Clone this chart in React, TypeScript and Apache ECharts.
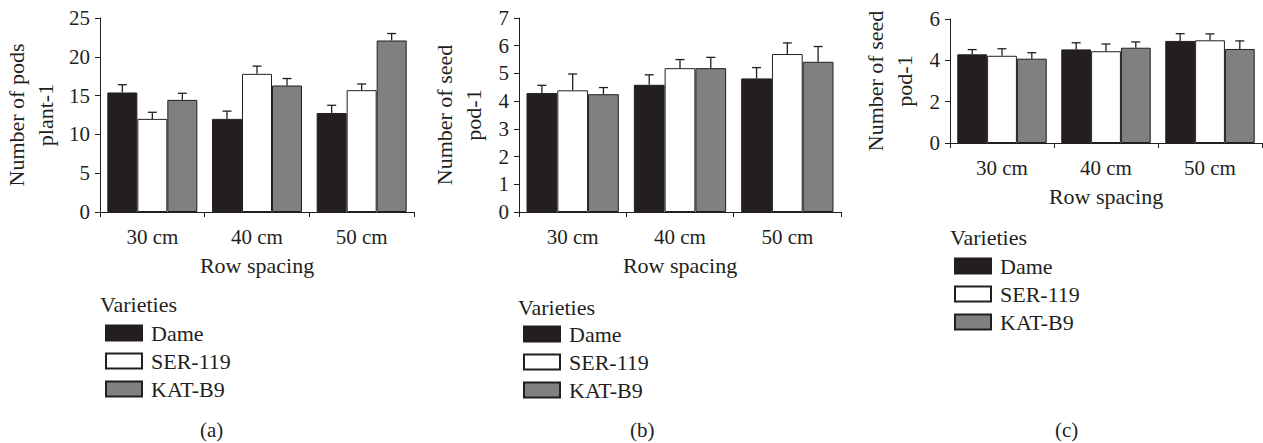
import React, { useEffect, useRef } from "react";
import * as echarts from "echarts";

const categories = ["30 cm", "40 cm", "50 cm"];
const varieties = ["Dame", "SER-119", "KAT-B9"];

// Panel (a): Number of pods plant-1
const podsDame = [15.4, 12.0, 12.75];
const podsDameErr = [1.0, 1.0, 1.0];
const podsSER = [12.0, 17.8, 15.7];
const podsSERErr = [0.85, 1.0, 0.8];
const podsKAT = [14.45, 16.3, 22.1];
const podsKATErr = [0.85, 0.9, 0.9];

// Panel (b): Number of seed pod-1
const seedBDame = [4.29, 4.59, 4.82];
const seedBDameErr = [0.28, 0.36, 0.39];
const seedBSER = [4.39, 5.19, 5.7];
const seedBSERErr = [0.59, 0.31, 0.4];
const seedBKAT = [4.25, 5.19, 5.42];
const seedBKATErr = [0.24, 0.39, 0.55];

// Panel (c): Number of seed pod-1
const seedCDame = [4.29, 4.53, 4.94];
const seedCDameErr = [0.23, 0.32, 0.35];
const seedCSER = [4.22, 4.44, 4.97];
const seedCSERErr = [0.34, 0.35, 0.31];
const seedCKAT = [4.08, 4.61, 4.55];
const seedCKATErr = [0.29, 0.28, 0.39];

const FONT = "'Liberation Serif', 'DejaVu Serif', serif";
const INK = "#231f20";
const colors = ["#231f20", "#ffffff", "#7f807f"];
const CAT_GAP = 0.14;

export default function App() {
  const ref = useRef<HTMLDivElement>(null);
  useEffect(() => {
    if (!ref.current) return;
    const chart = echarts.init(ref.current, null, { renderer: "svg" });

    const panels = [
      {
        grid: { left: 100, top: 18, width: 314, height: 194 },
        yMax: 25, yInt: 5, yName: "Number of pods\nplant-1", nameGap: 40,
        vals: [podsDame, podsSER, podsKAT],
        errs: [podsDameErr, podsSERErr, podsKATErr],
        legend: { left: 100, top: 317 }, varieties: { x: 100, y: 305 },
        tag: "(a)", tagX: 212,
      },
      {
        grid: { left: 519, top: 18, width: 322, height: 194 },
        yMax: 7, yInt: 1, yName: "Number of seed\npod-1", nameGap: 31,
        vals: [seedBDame, seedBSER, seedBKAT],
        errs: [seedBDameErr, seedBSERErr, seedBKATErr],
        legend: { left: 518, top: 318 }, varieties: { x: 518, y: 308 },
        tag: "(b)", tagX: 642,
      },
      {
        grid: { left: 950, top: 19, width: 312, height: 124 },
        yMax: 6, yInt: 2, yName: "Number of seed\npod-1", nameGap: 31,
        vals: [seedCDame, seedCSER, seedCKAT],
        errs: [seedCDameErr, seedCSERErr, seedCKATErr],
        legend: { left: 949, top: 250 }, varieties: { x: 950, y: 238 },
        tag: "(c)", tagX: 1067,
      },
    ];

    const grid: any[] = [];
    const xAxis: any[] = [];
    const yAxis: any[] = [];
    const series: any[] = [];
    const legend: any[] = [];
    const graphic: any[] = [];

    panels.forEach((p, pi) => {
      grid.push({ ...p.grid, containLabel: false });
      xAxis.push({
        type: "category",
        gridIndex: pi,
        data: categories,
        name: "Row spacing",
        nameLocation: "middle",
        nameGap: 42,
        nameTextStyle: { fontFamily: FONT, fontSize: 22, color: INK },
        axisLine: { lineStyle: { color: INK, width: 1 } },
        axisTick: { show: true, length: 5, alignWithLabel: false, lineStyle: { color: INK } },
        axisLabel: { fontFamily: FONT, fontSize: 21, color: INK, margin: 14 },
        splitLine: { show: false },
      });
      yAxis.push({
        type: "value",
        gridIndex: pi,
        min: 0,
        max: p.yMax,
        interval: p.yInt,
        name: p.yName,
        nameLocation: "middle",
        nameGap: p.nameGap,
        nameTextStyle: { fontFamily: FONT, fontSize: 22, color: INK, lineHeight: 29 },
        axisLine: { show: true, lineStyle: { color: INK, width: 1 } },
        axisTick: { show: true, length: 5, lineStyle: { color: INK } },
        axisLabel: { fontFamily: FONT, fontSize: 21, color: INK, margin: 10 },
        splitLine: { show: false },
      });
      varieties.forEach((v, vi) => {
        series.push({
          type: "bar",
          name: v,
          xAxisIndex: pi,
          yAxisIndex: pi,
          data: p.vals[vi],
          barGap: "0%",
          barCategoryGap: CAT_GAP * 100 + "%",
          itemStyle: { color: colors[vi], borderColor: INK, borderWidth: 1 },
          emphasis: { disabled: true },
          z: 2,
        });
      });
      varieties.forEach((v, vi) => {
        series.push({
          type: "custom",
          name: v + " error",
          xAxisIndex: pi,
          yAxisIndex: pi,
          z: 5,
          encode: { x: 0, y: 1 },
          data: p.vals[vi].map((val, ci) => [ci, val, p.errs[vi][ci]]),
          renderItem: (params: any, api: any) => {
            const ci = api.value(0);
            const val = api.value(1);
            const e = api.value(2);
            const base = api.coord([ci, val]);
            const top = api.coord([ci, val + e]);
            const cw = api.size([1, 0])[0];
            const bw = (cw * (1 - CAT_GAP)) / 3;
            const x = base[0] + (vi - 1) * bw;
            const st = { stroke: INK, lineWidth: 1.3 };
            return {
              type: "group",
              children: [
                { type: "line", shape: { x1: x, y1: base[1], x2: x, y2: top[1] }, style: st },
                { type: "line", shape: { x1: x - 4.5, y1: top[1], x2: x + 4.5, y2: top[1] }, style: st },
              ],
            };
          },
        });
      });
      legend.push({
        orient: "vertical",
        left: p.legend.left,
        top: p.legend.top,
        data: varieties,
        icon: "rect",
        itemWidth: 36,
        itemHeight: 15,
        itemGap: 6,
        selectedMode: false,
        textStyle: { fontFamily: FONT, fontSize: 22, color: INK, padding: [0, 0, 0, 4] },
      });
      graphic.push({
        type: "text",
        left: p.varieties.x,
        top: p.varieties.y - 12,
        style: { text: "Varieties", font: `22px ${FONT}`, fill: INK },
      });
      graphic.push({
        type: "text",
        left: p.tagX - 12,
        top: 419,
        style: { text: p.tag, font: `21px ${FONT}`, fill: INK },
      });
    });

    chart.setOption({
      animation: false,
      backgroundColor: "#ffffff",
      grid,
      xAxis,
      yAxis,
      series,
      legend,
      graphic,
    });
    return () => chart.dispose();
  }, []);

  return (
    <div
      ref={ref}
      style={{ position: "absolute", left: 0, top: 0, width: 1263, height: 443 }}
    />
  );
}
